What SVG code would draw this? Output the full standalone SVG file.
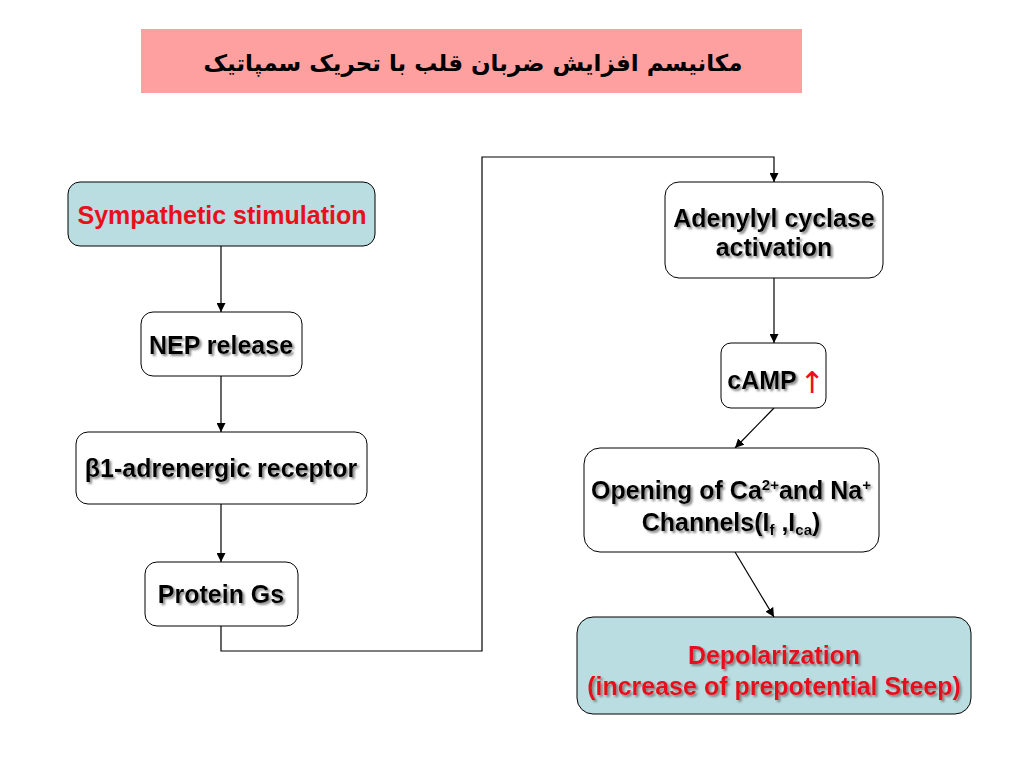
<svg xmlns="http://www.w3.org/2000/svg" width="1024" height="768" viewBox="0 0 1024 768">
<defs>
<marker id="ah" viewBox="0 0 10 10" refX="10" refY="5" markerWidth="9" markerHeight="9" markerUnits="userSpaceOnUse" orient="auto">
<path d="M0,0 L10,5 L0,10 z" fill="#000"/>
</marker>
<filter id="sh" x="-5%" y="-20%" width="110%" height="140%">
<feDropShadow dx="2" dy="2" stdDeviation="0.8" flood-color="#7a7a7a" flood-opacity="0.9"/>
</filter>
</defs>
<style>
.box{fill:#fff;stroke:#000;stroke-width:1}
.blue{fill:#b9dde1;stroke:#000;stroke-width:1}
.t{font-family:"Liberation Sans",Arial,sans-serif;font-weight:bold;font-size:25px;fill:#000;text-anchor:middle}
.red{fill:#e8101a}
.sd{filter:url(#sh)}
.c{fill:none;stroke:#000;stroke-width:1.2}
</style>
<rect width="1024" height="768" fill="#fff"/>
<g id="title">
<rect x="141" y="29" width="661" height="64" fill="#ffa0a0"/>
<text x="473" y="71" font-family="'DejaVu Sans',sans-serif" font-weight="bold" font-size="23" text-anchor="middle" direction="rtl" fill="#000">مکانیسم افزایش ضربان قلب با تحریک سمپاتیک</text>
</g>
<g id="connectors">
<line class="c" x1="221" y1="246" x2="221" y2="312" marker-end="url(#ah)"/>
<line class="c" x1="221" y1="376" x2="221" y2="432" marker-end="url(#ah)"/>
<line class="c" x1="221" y1="504" x2="221" y2="562" marker-end="url(#ah)"/>
<polyline class="c" points="221,626 221,651 482,651 482,157 774,157 774,182" marker-end="url(#ah)"/>
<line class="c" x1="774" y1="278" x2="774" y2="343" marker-end="url(#ah)"/>
<line class="c" x1="774" y1="408" x2="735" y2="448" marker-end="url(#ah)"/>
<line class="c" x1="735" y1="552" x2="774" y2="617" marker-end="url(#ah)"/>
</g>
<g id="sympathetic">
<rect class="blue" x="68" y="182" width="307" height="64" rx="12"/>
<text class="t red" x="222" y="224">Sympathetic stimulation</text>
</g>
<g id="nep">
<rect class="box" x="141" y="312" width="161" height="64" rx="12"/>
<text class="t sd" x="221" y="354">NEP release</text>
</g>
<g id="beta1">
<rect class="box" x="76" y="432" width="291" height="72" rx="12"/>
<text class="t sd" x="221" y="477">β1-adrenergic receptor</text>
</g>
<g id="gs">
<rect class="box" x="145" y="562" width="153" height="64" rx="12"/>
<text class="t sd" x="221" y="603">Protein Gs</text>
</g>
<g id="adenylyl">
<rect class="box" x="665" y="182" width="218" height="96" rx="14"/>
<text class="t sd" x="774" y="227">Adenylyl cyclase</text>
<text class="t sd" x="774" y="256">activation</text>
</g>
<g id="camp">
<rect class="box" x="721" y="343" width="105" height="65" rx="10"/>
<text class="t sd" x="762" y="389">cAMP</text>
<text x="812" y="393" font-family="'DejaVu Sans',sans-serif" font-size="30" text-anchor="middle" fill="#e8101a">↑</text>
</g>
<g id="opening">
<rect class="box" x="584" y="448" width="295" height="104" rx="16"/>
<text class="t sd" x="731" y="499">Opening of Ca<tspan font-size="15" dy="-9">2+</tspan><tspan dy="9">and Na</tspan><tspan font-size="15" dy="-9">+</tspan></text>
<text class="t sd" x="731" y="531">Channels(I<tspan font-size="15" dy="4">f</tspan><tspan dy="-4"> ,I</tspan><tspan font-size="15" dy="4">ca</tspan><tspan dy="-4">)</tspan></text>
</g>
<g id="depol">
<rect class="blue" x="577" y="617" width="394" height="97" rx="16"/>
<text class="t red sd" x="774" y="664">Depolarization</text>
<text class="t red sd" x="774" y="695">(increase of prepotential Steep)</text>
</g>
</svg>
